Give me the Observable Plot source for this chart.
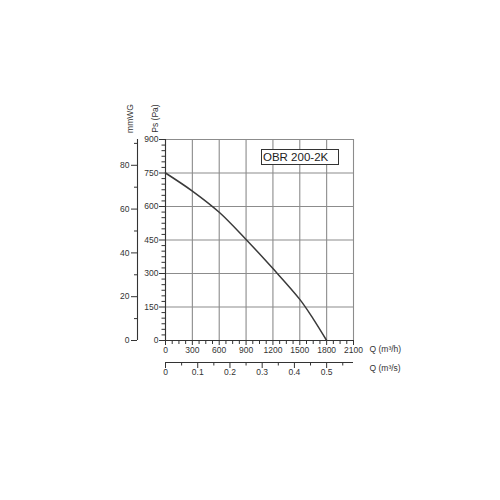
<!DOCTYPE html>
<html>
<head>
<meta charset="utf-8">
<script src="https://cdn.jsdelivr.net/npm/d3@7"></script>
<script src="https://cdn.jsdelivr.net/npm/@observablehq/plot@0.6"></script>
<style>
  body { margin: 0; background: #fff; }
  #wrap { position: relative; width: 500px; height: 500px; font-family: "Liberation Sans", Arial, sans-serif; }
  #model { position: absolute; left: 261px; top: 149px; width: 75px; height: 14px; border: 1px solid #333;
           background: #fff; font-size: 11.5px; line-height: 14px; color: #222; padding-left: 1px; white-space: nowrap; }
</style>
</head>
<body>
<div id="wrap"></div>
<script>
// ---- data ----
const flowM3h    = [0, 300, 600, 900, 1200, 1500, 1650, 1800];
const pressurePa = [750, 669, 574, 452, 322, 184, 97, 0];
const qTicks     = [0, 300, 600, 900, 1200, 1500, 1800, 2100];
const paTicks    = [0, 150, 300, 450, 600, 750, 900];
const mmTicks    = [0, 20, 40, 60, 80];
const mmMinor    = [10, 30, 50, 70, 90];
const m3sTicks   = [0, 0.1, 0.2, 0.3, 0.4, 0.5];
const m3sMinor   = [0.05, 0.15, 0.25, 0.35, 0.45, 0.55];
const modelName  = "OBR 200-2K";
const labelQh = "Q (m³/h)", labelQs = "Q (m³/s)", labelPa = "Ps (Pa)", labelMm = "mmWG";

const PA_PER_MM = 9.80665;
const M3H_PER_M3S = 3600;
const paMinor = d3.range(0, 901, 25).filter(v => !paTicks.includes(v));
const qMinor = d3.range(0, 2101, 75).filter(v => !qTicks.includes(v));

const rows = flowM3h.map((q, i) => ({q, p: pressurePa[i]}));
const ink = "#333";
const gridC = "#8c8c8c";

const chart = Plot.plot({
  width: 500, height: 500,
  marginLeft: 165, marginRight: 147, marginTop: 139, marginBottom: 160,
  x: {domain: [0, 2100], label: null},
  y: {domain: [0, 900], label: null},
  style: {fontFamily: "'Liberation Sans', Arial, sans-serif", fontSize: "8.5px", color: ink, background: "#fff"},
  marks: [
    Plot.gridX(qTicks, {stroke: gridC, strokeOpacity: 1, strokeWidth: 1.1}),
    Plot.gridY(paTicks, {stroke: gridC, strokeOpacity: 1, strokeWidth: 1.1}),
    Plot.ruleX([0], {stroke: ink, strokeWidth: 1.1}),
    Plot.ruleY([0], {stroke: ink, strokeWidth: 1.1}),
    // Pa axis
    Plot.axisY(paTicks, {anchor: "left", tickSize: 6, tickPadding: 1, color: ink, label: null}),
    Plot.axisY(paMinor, {anchor: "left", tickSize: 3.5, fill: "none", stroke: ink, label: null}),
    // mmWG axis
    Plot.ruleX([0], {dx: -28, stroke: ink, strokeWidth: 1.1}),
    Plot.axisY(mmTicks.map(m => m * PA_PER_MM), {anchor: "left", dx: -28, tickSize: 6, tickPadding: 2,
      tickFormat: d => String(Math.round(d / PA_PER_MM)), color: ink, label: null}),
    Plot.axisY(mmMinor.map(m => m * PA_PER_MM), {anchor: "left", dx: -28, tickSize: 3, fill: "none", stroke: ink, label: null}),
    // Q m3/h axis
    Plot.axisX(qTicks, {anchor: "bottom", tickSize: 5, tickPadding: 1, tickFormat: d => String(d), color: ink, label: null}),
    Plot.axisX(qMinor, {anchor: "bottom", tickSize: 4, fill: "none", stroke: ink, label: null}),
    // Q m3/s axis
    Plot.ruleY([0], {dy: 22, stroke: ink, strokeWidth: 1.1}),
    Plot.axisX(m3sTicks.map(v => v * M3H_PER_M3S), {anchor: "bottom", dy: 22, tickSize: 6, tickPadding: 0,
      tickFormat: d => String(+(d / M3H_PER_M3S).toFixed(2)), color: ink, label: null}),
    Plot.axisX(m3sMinor.map(v => v * M3H_PER_M3S), {anchor: "bottom", dy: 22, tickSize: 3.5, fill: "none", stroke: ink, label: null}),
    // curve
    Plot.line(rows, {x: "q", y: "p", curve: "catmull-rom", stroke: "#3a3a3a", strokeWidth: 1.5}),
    // axis titles
    Plot.text([labelQh], {frameAnchor: "bottom-right", dx: 16, dy: 11, textAnchor: "start", fill: ink}),
    Plot.text([labelQs], {frameAnchor: "bottom-right", dx: 16, dy: 30, textAnchor: "start", fill: ink}),
    Plot.text([labelMm], {frameAnchor: "top-left", dx: -39, dy: -21, rotate: -90, textAnchor: "middle", fill: ink}),
    Plot.text([labelPa], {frameAnchor: "top-left", dx: -14, dy: -21, rotate: -90, textAnchor: "middle", fill: ink})
  ]
});
const wrap = document.getElementById("wrap");
wrap.appendChild(chart);
const box = document.createElement("div");
box.id = "model";
box.textContent = modelName;
wrap.appendChild(box);
</script>
</body>
</html>
